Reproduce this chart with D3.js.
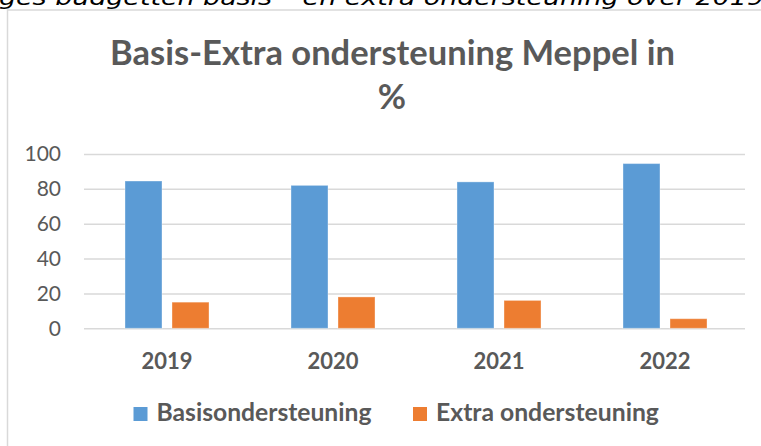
<!DOCTYPE html>
<html>
<head>
<meta charset="utf-8">
<script src="https://cdn.jsdelivr.net/npm/d3@7"></script>
<style>
  html, body { margin: 0; padding: 0; background: #fff; }
  svg { display: block; }
</style>
</head>
<body>
<div id="chart"></div>
<script>
// Data
const years = ["2019", "2020", "2021", "2022"];
const seriesNames = ["Basisondersteuning", "Extra ondersteuning"];
const basisValues = [84.5, 82, 84, 94.5];
const extraValues = [15, 18, 16, 5.5];
const yTicks = [0, 20, 40, 60, 80, 100];
const seriesColors = ["#5b9bd5", "#ed7d31"];

const rows = years.map((y, i) => ({ year: y, values: [basisValues[i], extraValues[i]] }));

// Set up dimensions
const width = 761;
const height = 446;
const textColor = "#595959";
const gridColor = "#d9d9d9";
const plot = { left: 84, right: 748, top: 154, bottom: 328.3 };

const svg = d3.select("#chart")
    .append("svg")
    .attr("width", width)
    .attr("height", height);

// Cut-off caption line from the page above the chart
svg.append("text")
    .attr("x", -1)
    .attr("y", 5)
    .attr("font-family", "DejaVu Sans")
    .attr("font-style", "italic")
    .attr("font-size", "22px")
    .attr("fill", "#000")
    .attr("textLength", 765)
    .attr("lengthAdjust", "spacingAndGlyphs")
    .text("ges budgetten basis \u2013 en extra ondersteuning over 2019");

// Chart border (left and top visible)
svg.append("path")
    .attr("d", `M7.5,${height} V10 H${width}`)
    .attr("fill", "none")
    .attr("stroke", gridColor)
    .attr("stroke-width", 1.5);

// Helper: size a text so it spans a given width
function fitText(sel, target) {
    const fs = parseFloat(sel.attr("font-size"));
    const w = sel.node().getComputedTextLength();
    sel.attr("font-size", (fs * target / w) + "px");
}

// Title
const title1 = svg.append("text")
    .attr("x", 392.5)
    .attr("y", 64.5)
    .attr("text-anchor", "middle")
    .attr("font-family", "Lato")
    .attr("font-weight", "700")
    .attr("font-size", "32px")
    .attr("fill", textColor)
    .text("Basis-Extra ondersteuning Meppel in");
fitText(title1, 565);

svg.append("text")
    .attr("x", 392)
    .attr("y", 109)
    .attr("text-anchor", "middle")
    .attr("font-family", "Lato")
    .attr("font-weight", "700")
    .attr("font-size", title1.attr("font-size"))
    .attr("fill", textColor)
    .text("%");

// Scales
const y = d3.scaleLinear()
    .domain([0, 100])
    .range([plot.bottom, plot.top]);

const x0 = d3.scaleBand()
    .domain(years)
    .range([plot.left, plot.right])
    .padding(0);

const x1 = d3.scaleBand()
    .domain(seriesNames)
    .range([0, x0.bandwidth()])
    .paddingInner(0.213)
    .paddingOuter(0.872);

// Gridlines + y labels
const yAxis = svg.append("g")
    .attr("transform", `translate(${plot.left},0)`)
    .call(d3.axisLeft(y)
        .tickValues(yTicks)
        .tickSize(-(745 - plot.left))
        .tickPadding(23));
yAxis.select(".domain").remove();
yAxis.selectAll("line")
    .attr("stroke", gridColor)
    .attr("stroke-width", 1.5);
yAxis.selectAll("text")
    .attr("font-family", "Lato")
    .attr("font-size", "21px")
    .attr("fill", textColor);

// Bars
const groups = svg.selectAll("g.year")
    .data(rows)
    .enter()
    .append("g")
    .attr("class", "year")
    .attr("transform", d => `translate(${x0(d.year)},0)`);

groups.selectAll("rect")
    .data(d => d.values.map((v, i) => ({ series: seriesNames[i], value: v, color: seriesColors[i] })))
    .enter()
    .append("rect")
    .attr("x", d => x1(d.series))
    .attr("y", d => y(d.value))
    .attr("width", x1.bandwidth())
    .attr("height", d => y(0) - y(d.value))
    .attr("fill", d => d.color)
    .attr("stroke", "#fff")
    .attr("stroke-opacity", 0.35)
    .attr("stroke-width", 1);

// X labels
svg.append("g")
    .selectAll("text")
    .data(years)
    .enter()
    .append("text")
    .attr("x", d => x0(d) + x0.bandwidth() / 2)
    .attr("y", 369)
    .attr("text-anchor", "middle")
    .attr("font-family", "Lato")
    .attr("font-weight", "700")
    .attr("font-size", "22px")
    .attr("fill", textColor)
    .text(d => d);

// Legend
const legendItems = [
    { name: seriesNames[0], color: seriesColors[0], sx: 133.5, tx: 156.5, tw: 215 },
    { name: seriesNames[1], color: seriesColors[1], sx: 413, tx: 436, tw: 223 }
];
legendItems.forEach(item => {
    svg.append("rect")
        .attr("x", item.sx)
        .attr("y", 407)
        .attr("width", 14)
        .attr("height", 14)
        .attr("fill", item.color);
    const t = svg.append("text")
        .attr("x", item.tx)
        .attr("y", 421)
        .attr("font-family", "Lato")
        .attr("font-weight", "700")
        .attr("font-size", "22px")
        .attr("fill", textColor)
        .text(item.name);
    fitText(t, item.tw);
});
</script>
</body>
</html>
